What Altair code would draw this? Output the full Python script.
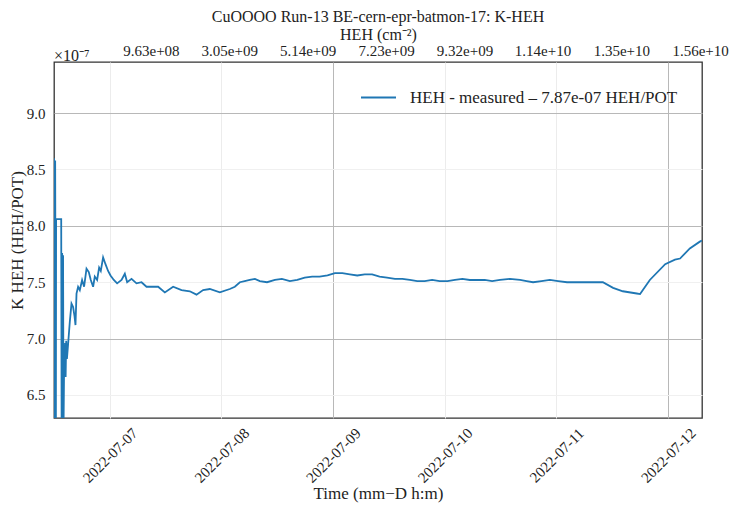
import altair as alt
import pandas as pd

# ---- data ----
hours_since_start = [
    0.00, 0.10, 0.25, 0.40, 0.45, 1.55, 1.65, 1.75, 1.85, 1.95, 2.05, 2.20, 2.30, 2.40,
    2.50, 2.62, 2.78, 3.03, 3.40, 3.76, 4.11, 4.41, 4.62, 4.84, 5.18, 5.55, 6.04, 6.47,
    6.99, 7.48, 7.91, 8.41, 8.77, 9.27, 9.70, 10.06, 10.56, 11.07, 11.63, 12.15, 12.86,
    13.57, 14.52, 15.23, 15.73, 16.67, 17.74, 18.82, 19.89, 21.31, 22.39, 23.83, 25.61,
    27.42, 29.20, 30.64, 32.06, 33.50, 35.65, 37.80, 38.88, 39.96, 41.0, 42.1, 43.2,
    44.25, 45.8, 47.5, 49.0, 50.7, 52.3, 53.9, 55.5, 57.1, 58.8, 60.4, 62.0, 63.6, 65.2,
    66.8, 68.4, 70.0, 71.6, 73.3, 74.9, 76.5, 78.1, 79.7, 81.3, 82.9, 84.6, 86.2, 87.8,
    89.4, 91.0, 92.6, 94.2, 95.9, 98.0, 100.2, 101.6, 103.0, 104.8, 106.6, 108.4, 110.3,
    112.2, 114.2, 116.1, 118.0, 120.2, 122.3, 125.3, 126.0, 128.1, 131.4, 133.5, 134.6,
    136.7, 138.85, 139.3,
]
k_heh_e7 = [
    8.60, 6.00, 8.58, 6.00, 8.06, 8.06, 6.00, 7.76, 6.00, 7.74, 6.20, 6.88, 6.72, 6.96,
    6.66, 6.98, 6.82, 6.95, 7.15, 7.31, 7.28, 7.20, 7.12, 7.40, 7.46, 7.43, 7.52, 7.46,
    7.62, 7.59, 7.52, 7.46, 7.55, 7.52, 7.63, 7.60, 7.72, 7.66, 7.60, 7.56, 7.52,
    7.49, 7.52, 7.575, 7.50, 7.53, 7.49, 7.50, 7.46, 7.46, 7.46, 7.41, 7.46,
    7.43, 7.42, 7.39, 7.43, 7.44, 7.41, 7.44, 7.46, 7.50, 7.51, 7.52, 7.53,
    7.51, 7.50, 7.52, 7.53, 7.51, 7.52, 7.54, 7.55, 7.55, 7.56, 7.58, 7.58, 7.57, 7.56,
    7.57, 7.57, 7.55, 7.54, 7.53, 7.53, 7.52, 7.51, 7.51, 7.52, 7.51, 7.51, 7.52, 7.53,
    7.52, 7.52, 7.52, 7.51, 7.52, 7.53, 7.52, 7.51, 7.50, 7.51, 7.52, 7.51, 7.50,
    7.50, 7.50, 7.50, 7.50, 7.45, 7.42, 7.40, 7.395, 7.52, 7.66, 7.70, 7.71,
    7.80, 7.86, 7.87,
]
series_label = "HEH - measured \u2013 7.87e-07 HEH/POT"
day_ticks = [7, 8, 9, 10, 11, 12]
y_ticks = [6.5, 7.0, 7.5, 8.0, 8.5, 9.0]
top_tick_values = [9.63e8, 3.05e9, 5.14e9, 7.23e9, 9.32e9, 1.14e10, 1.35e10, 1.56e10]

start = pd.Timestamp("2022-07-06 12:00")
df = pd.DataFrame({
    "time": start + pd.to_timedelta(hours_since_start, unit="h"),
    "k": k_heh_e7,
    "series": series_label,
})
top_df = pd.DataFrame({"fluence": top_tick_values})
offset_df = pd.DataFrame({"t": ["\u00d710\u207b\u2077"]})

FONT = "Liberation Serif"
TXT = "#222222"

x_dom = [alt.DateTime(year=2022, month=7, date=6, hours=12),
         alt.DateTime(year=2022, month=7, date=12, hours=7, minutes=19)]

line = alt.Chart(df).mark_line(clip=True, strokeWidth=1.8).encode(
    x=alt.X("time:T", scale=alt.Scale(domain=x_dom, nice=False),
            axis=alt.Axis(
                values=[alt.DateTime(year=2022, month=7, date=d) for d in day_ticks],
                format="%Y-%m-%d", labelAngle=315, labelAlign="center",
                labelBaseline="middle", labelPadding=37, ticks=False, tickSize=0,
                domain=False, labelFlush=False, labelOverlap=False,
                title="Time (mm\u2212D h:m)", titleY=75, titleBaseline="middle",
                gridColor={"condition": {"test": "date(datum.value) == 9 || date(datum.value) == 12",
                                         "value": "#b8b8b8"}, "value": "#ececec"},
            )),
    y=alt.Y("k:Q", scale=alt.Scale(domain=[6.296, 9.453], nice=False, zero=False),
            axis=alt.Axis(values=y_ticks, format=".1f", ticks=False, tickSize=0,
                          domain=False, labelPadding=9,
                          title="K HEH (HEH/POT)", titleX=-37, titleY=178,
                          titleAlign="center", titleBaseline="middle",
                          gridColor={"condition": {"test": "datum.value % 1 == 0",
                                                   "value": "#b8b8b8"}, "value": "#f0f0f0"})),
    color=alt.Color("series:N", scale=alt.Scale(range=["#1f77b4"]),
                    legend=alt.Legend(orient="none", legendX=306, legendY=17, title=None,
                                      symbolType="stroke", symbolSize=1225,
                                      symbolStrokeWidth=2, labelOffset=13, labelLimit=0,
                                      labelFont=FONT, labelFontSize=17, labelColor=TXT,
                                      padding=0)),
)

top = alt.Chart(top_df).mark_point(opacity=0).encode(
    x=alt.X("fluence:Q",
            scale=alt.Scale(domain=[-1.62e9, 1.565e10], nice=False, zero=False),
            axis=alt.Axis(orient="top", values=top_tick_values,
                          labelExpr="datum.value < 1e10 ? replace(format(datum.value, '.2e'), 'e+', 'e+0') : format(datum.value, '.2e')",
                          ticks=False, tickSize=0, domain=False, grid=False,
                          labelPadding=4, labelFlush=False, labelOverlap=False,
                          title="HEH (cm\u207b\u00b2)", titleFontSize=16,
                          titleY=-28, titleBaseline="middle")),
)

offset_txt = alt.Chart(offset_df).mark_text(
    align="left", baseline="alphabetic", font=FONT, fontSize=16, color=TXT
).encode(text="t:N", x=alt.value(0), y=alt.value(-1))

chart = alt.layer(line, top, offset_txt).resolve_scale(x="independent").properties(
    width=648, height=356,
    title=alt.TitleParams("CuOOOO Run-13 BE-cern-epr-batmon-17: K-HEH", font=FONT,
                          fontSize=16, fontWeight="normal", color=TXT, anchor="middle",
                          offset=1),
    autosize=alt.AutoSizeParams(type="none"),
    padding={"left": 54, "top": 62, "right": 34, "bottom": 89},
).configure_axis(
    labelFont=FONT, labelFontSize=15, labelColor=TXT,
    titleFont=FONT, titleFontSize=17, titleFontWeight="normal", titleColor=TXT,
).configure_view(stroke="#333333", strokeWidth=1.3)

chart.save("out.html", embed_options={"renderer": "svg", "actions": False})
